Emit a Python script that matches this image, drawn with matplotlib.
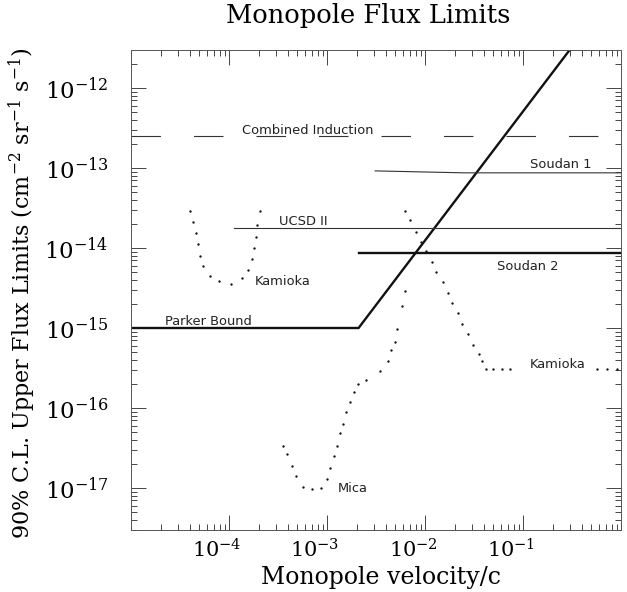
import matplotlib
matplotlib.use('Agg')
import matplotlib.pyplot as plt
import matplotlib.transforms as mtransforms
from matplotlib.ticker import LogLocator, LogFormatterSciNotation, NullFormatter, FixedLocator

# ---------------- data ----------------
parker_v = [1e-5, 2.1e-3, 0.30]
parker_flux = [1e-15, 1e-15, 3.0e-12]

induction_v = [1e-5, 0.60]
induction_flux = [2.5e-13, 2.5e-13]

soudan1_v = [3.1e-3, 2.5e-2, 1.0]
soudan1_flux = [9.2e-14, 8.7e-14, 8.7e-14]

ucsd_v = [1.12e-4, 1.0]
ucsd_flux = [1.78e-14, 1.78e-14]

soudan2_v = [2.1e-3, 1.0]
soudan2_flux = [8.7e-15, 8.7e-15]

kamioka_low_v = [4.03e-5, 4.26e-5, 4.61e-5, 4.83e-5, 5.1e-5, 5.4e-5, 6.35e-5, 7.85e-5,
                 1.04e-4, 1.36e-4, 1.57e-4, 1.73e-4, 1.80e-4, 1.87e-4, 1.95e-4, 2.05e-4]
kamioka_low_flux = [2.9e-14, 2.13e-14, 1.53e-14, 1.12e-14, 8.0e-15, 6.0e-15, 4.47e-15, 3.84e-15,
                    3.55e-15, 4.18e-15, 5.3e-15, 7.3e-15, 9.9e-15, 1.38e-14, 1.94e-14, 2.92e-14]

mica_v = [3.56e-4, 3.95e-4, 4.41e-4, 4.81e-4, 5.71e-4, 6.97e-4, 8.67e-4, 9.93e-4, 1.07e-3,
          1.18e-3, 1.26e-3, 1.36e-3, 1.45e-3, 1.58e-3, 1.73e-3, 1.89e-3, 2.08e-3, 2.49e-3,
          3.5e-3, 4.15e-3, 4.53e-3, 4.94e-3, 5.22e-3, 5.83e-3, 6.3e-3]
mica_flux = [3.35e-17, 2.64e-17, 1.88e-17, 1.41e-17, 1.04e-17, 9.6e-18, 1.0e-17, 1.31e-17, 1.79e-17,
             2.49e-17, 3.35e-17, 4.83e-17, 6.3e-17, 8.8e-17, 1.19e-16, 1.58e-16, 1.98e-16, 2.24e-16,
             2.92e-16, 3.9e-16, 5.3e-16, 6.7e-16, 9.6e-16, 1.88e-15, 2.92e-15]

kamioka_high_v = [6.3e-3, 7.1e-3, 8.13e-3, 9.2e-3, 1.02e-2, 1.175e-2, 1.31e-2, 1.51e-2, 1.70e-2,
                  1.9e-2, 2.17e-2, 2.41e-2, 2.75e-2, 3.12e-2, 3.52e-2, 3.79e-2, 4.2e-2,
                  5.0e-2, 6.1e-2, 7.4e-2, 0.574, 0.728, 0.92]
kamioka_high_flux = [2.92e-14, 2.26e-14, 1.6e-14, 1.19e-14, 9.2e-15, 6.6e-15, 5.06e-15, 3.76e-15, 2.74e-15,
                     2.05e-15, 1.53e-15, 1.12e-15, 8.5e-16, 6.2e-16, 4.73e-16, 3.9e-16, 3.1e-16,
                     3.1e-16, 3.1e-16, 3.1e-16, 3.1e-16, 3.1e-16, 3.1e-16]

x_major = [1e-4, 1e-3, 1e-2, 1e-1]
y_major = [1e-17, 1e-16, 1e-15, 1e-14, 1e-13, 1e-12]

# ---------------- style ----------------
plt.rcParams['font.family'] = ['DejaVu Serif']
plt.rcParams['mathtext.fontset'] = 'dejavuserif'
plt.rcParams['lines.scale_dashes'] = False

fig = plt.figure(figsize=(6.27, 5.92), dpi=100)
ax = fig.add_axes([131/627, 62/592, 490/627, 480/592])
ax.set_xscale('log')
ax.set_yscale('log')
ax.set_xlim(1e-5, 1.0)
ax.set_ylim(10**-17.525, 10**-11.525)

ink = '#111111'
ax.plot(parker_v, parker_flux, color=ink, lw=1.7, solid_joinstyle='miter')
ax.plot(soudan2_v, soudan2_flux, color=ink, lw=1.7)
ax.plot(soudan1_v, soudan1_flux, color='#333333', lw=0.8)
ax.plot(ucsd_v, ucsd_flux, color='#333333', lw=0.8)
ax.plot(induction_v, induction_flux, color='#333333', lw=0.8, linestyle=(0, (21.2, 23.8)))

dot_kw = dict(linestyle='none', marker='o', markersize=1.7, color=ink, markeredgewidth=0)
ax.plot(kamioka_low_v, kamioka_low_flux, **dot_kw)
ax.plot(mica_v, mica_flux, **dot_kw)
ax.plot(kamioka_high_v, kamioka_high_flux, **dot_kw)

lab_kw = dict(family='DejaVu Sans', fontsize=9.4, color='#222222', va='baseline', ha='left')
ax.text(1.37e-4, 2.66e-13, 'Combined Induction', **lab_kw)
ax.text(0.118, 9.9e-14, 'Soudan 1', **lab_kw)
ax.text(3.22e-4, 1.94e-14, 'UCSD II', **lab_kw)
ax.text(0.054, 5.3e-15, 'Soudan 2', **lab_kw)
ax.text(1.83e-4, 3.45e-15, 'Kamioka', **lab_kw)
ax.text(2.23e-5, 1.09e-15, 'Parker Bound', **lab_kw)
ax.text(0.118, 3.16e-16, 'Kamioka', **lab_kw)
ax.text(1.3e-3, 8.9e-18, 'Mica', **lab_kw)

# ticks
ax.xaxis.set_major_locator(FixedLocator(x_major))
ax.yaxis.set_major_locator(FixedLocator(y_major))
ax.xaxis.set_major_formatter(LogFormatterSciNotation())
ax.yaxis.set_major_formatter(LogFormatterSciNotation())
ax.xaxis.set_minor_locator(LogLocator(base=10, subs=range(1, 10), numticks=20))
ax.yaxis.set_minor_locator(LogLocator(base=10, subs=range(1, 10), numticks=20))
ax.xaxis.set_minor_formatter(NullFormatter())
ax.yaxis.set_minor_formatter(NullFormatter())
ax.tick_params(which='both', direction='in', top=True, right=True, color='#444444', width=0.7)
ax.tick_params(which='major', length=11)
ax.tick_params(which='minor', length=4)
ax.tick_params(axis='y', which='major', labelsize=16.5, pad=16)
ax.tick_params(axis='x', which='major', labelsize=15, pad=6)

offset = mtransforms.ScaledTranslation(-12/100, 0, fig.dpi_scale_trans)
for lbl in ax.get_xticklabels():
    lbl.set_transform(lbl.get_transform() + offset)

for sp in ax.spines.values():
    sp.set_color('#555555')
    sp.set_linewidth(0.7)

ax.set_xlabel('Monopole velocity/c', fontsize=17)
ax.xaxis.set_label_coords((381-131)/490, (530-566)/480)
ax.set_ylabel('90% C.L. Upper Flux Limits (cm$^{-2}$ sr$^{-1}$ s$^{-1}$)', fontsize=16)
ax.yaxis.set_label_coords((38-131)/490, (530-293)/480)

fig.text(368/627, 1-16/592, 'Monopole Flux Limits', ha='center', va='center', fontsize=18.5)

fig.savefig('out.png', dpi=100, facecolor='white')
